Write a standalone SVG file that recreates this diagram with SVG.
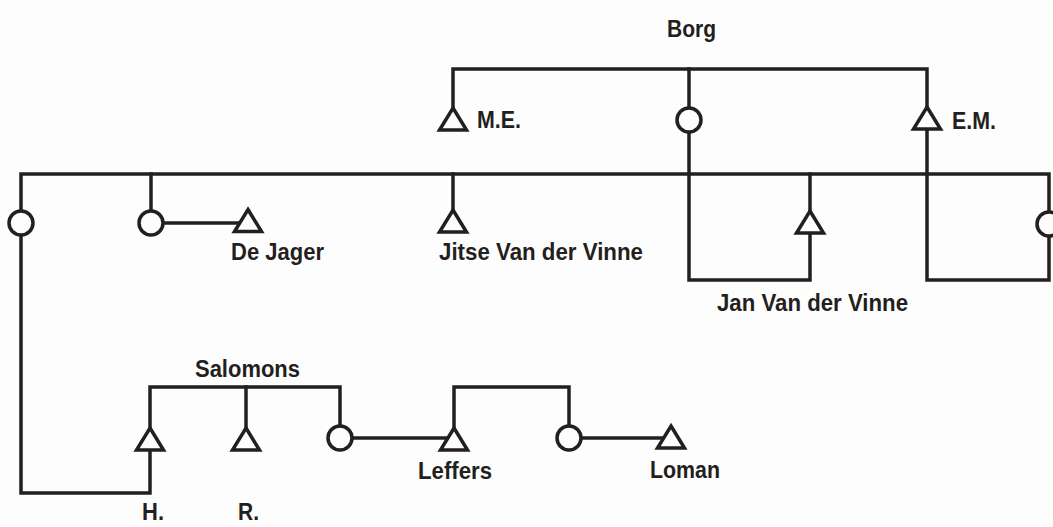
<svg xmlns="http://www.w3.org/2000/svg" width="1053" height="527" viewBox="0 0 1053 527">
<style>
.ln{fill:none;stroke:#231f20;stroke-width:3.5;stroke-linejoin:miter;stroke-linecap:square}
.sh{fill:#fdfdfd;stroke:#231f20;stroke-width:3.5;stroke-linejoin:miter}
.tx{font-family:"Liberation Sans",Arial,sans-serif;font-weight:bold;font-size:23px;fill:#231f20}
</style>
<defs>
<polygon id="tri" points="0,0 13.5,22 -13.5,22"/>
</defs>
<rect width="1053" height="527" fill="#fdfdfd"/>
<g id="connectors" class="ln">
<path d="M453 108V69H927V107"/>
<path d="M689 69V108"/>
<path d="M927 129V280H1049V236"/>
<path d="M21 211V174H1049V212"/>
<path d="M689 132V280H810V231"/>
<path d="M810 211V174"/>
<path d="M151 174V211"/>
<path d="M163 223H241"/>
<path d="M453 174V210"/>
<path d="M21 235V493H150V448"/>
<path d="M150 428V387H340V426"/>
<path d="M246 387V428"/>
<path d="M352 438H447"/>
<path d="M454 428V387H569V426"/>
<path d="M581 438H664"/>
</g>
<g id="label-borg"><text class="tx" x="667" y="37" textLength="49" lengthAdjust="spacingAndGlyphs">Borg</text></g>
<g id="label-salomons"><text class="tx" x="195" y="377" textLength="105" lengthAdjust="spacingAndGlyphs">Salomons</text></g>
<g id="node-me"><use href="#tri" class="sh" x="453" y="108"/><text class="tx" x="477" y="128" textLength="44" lengthAdjust="spacingAndGlyphs">M.E.</text></g>
<g id="node-borg-f"><circle class="sh" cx="689" cy="120" r="12"/></g>
<g id="node-em"><use href="#tri" class="sh" x="927" y="107"/><text class="tx" x="952" y="129" textLength="44" lengthAdjust="spacingAndGlyphs">E.M.</text></g>
<g id="node-f1"><circle class="sh" cx="21" cy="223" r="12"/></g>
<g id="node-f2"><circle class="sh" cx="151" cy="223" r="12"/></g>
<g id="node-dejager"><use href="#tri" class="sh" x="248" y="209.5"/><text class="tx" x="231" y="260" textLength="93" lengthAdjust="spacingAndGlyphs">De Jager</text></g>
<g id="node-jitse"><use href="#tri" class="sh" x="453" y="210"/><text class="tx" x="439" y="260" textLength="204" lengthAdjust="spacingAndGlyphs">Jitse Van der Vinne</text></g>
<g id="node-jan"><use href="#tri" class="sh" x="810" y="211"/><text class="tx" x="717" y="311" textLength="191" lengthAdjust="spacingAndGlyphs">Jan Van der Vinne</text></g>
<g id="node-f3"><circle class="sh" cx="1049" cy="224" r="12"/></g>
<g id="node-h"><use href="#tri" class="sh" x="150" y="428"/><text class="tx" x="142" y="520" textLength="22" lengthAdjust="spacingAndGlyphs">H.</text></g>
<g id="node-r"><use href="#tri" class="sh" x="246" y="428"/><text class="tx" x="238" y="520" textLength="21" lengthAdjust="spacingAndGlyphs">R.</text></g>
<g id="node-f4"><circle class="sh" cx="340" cy="438" r="12"/></g>
<g id="node-leffers"><use href="#tri" class="sh" x="454" y="428"/><text class="tx" x="418" y="479" textLength="74" lengthAdjust="spacingAndGlyphs">Leffers</text></g>
<g id="node-f5"><circle class="sh" cx="569" cy="438" r="12"/></g>
<g id="node-loman"><use href="#tri" class="sh" x="671" y="426"/><text class="tx" x="650" y="478" textLength="70" lengthAdjust="spacingAndGlyphs">Loman</text></g>
</svg>
